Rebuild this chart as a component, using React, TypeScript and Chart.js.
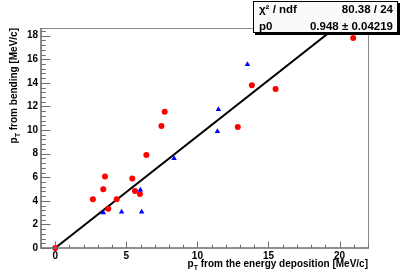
import React, { useEffect, useRef } from "react";
import { Chart, registerables } from "chart.js";

Chart.register(...registerables);

// ---- data ----
const redX = [0, 2.65, 3.38, 3.5, 3.73, 4.32, 5.42, 5.61, 5.96, 6.41, 7.47, 7.7, 12.84, 13.83, 15.5, 20.96];
const redY = [0, 4.13, 4.97, 6.07, 3.33, 4.13, 5.9, 4.83, 4.58, 7.88, 10.34, 11.55, 10.25, 13.79, 13.47, 17.8];
const blueX = [3.38, 4.67, 5.99, 6.08, 8.36, 11.41, 11.48, 13.52];
const blueY = [2.99, 3.05, 4.92, 3.05, 7.6, 9.89, 11.75, 15.57];
const fitP0 = 0.948;
const fitRange = [0, 22];
const xRange = [-1, 22];
const yRange = [0, 18.65];
const xMajorStep = 5;
const xMinorStep = 1;
const yMajorStep = 2;
const yMinorStep = 0.4;
const statsRows = [
  ["\u03C7\u00B2 / ndf", "80.38 / 24"],
  ["p0", "0.948 \u00B1 0.04219"],
];
const xTitle = ["p", "T", " from the energy deposition [MeV/c]"];
const yTitle = ["p", "T", " from bending [MeV/c]"];

const FONT = '"Liberation Sans", Arial, Helvetica, sans-serif';

function drawTitle(ctx: CanvasRenderingContext2D, parts: string[], size: number) {
  const main = `bold ${size}px ${FONT}`;
  const sub = `bold ${Math.round(size * 0.7)}px ${FONT}`;
  ctx.font = main;
  const w0 = ctx.measureText(parts[0]).width;
  const w2 = ctx.measureText(parts[2]).width;
  ctx.font = sub;
  const w1 = ctx.measureText(parts[1]).width;
  const total = w0 + w1 + w2;
  let x = -total;
  ctx.textAlign = "left";
  ctx.textBaseline = "alphabetic";
  ctx.fillStyle = "#000";
  ctx.font = main;
  ctx.fillText(parts[0], x, 0);
  x += w0;
  ctx.font = sub;
  ctx.fillText(parts[1], x, 3);
  x += w1;
  ctx.font = main;
  ctx.fillText(parts[2], x, 0);
}

const rootPlugin = {
  id: "rootStyle",
  afterDatasetsDraw(chart: any) {
    const ctx: CanvasRenderingContext2D = chart.ctx;
    const { left, right, top, bottom } = chart.chartArea;
    const xs = chart.scales.x;
    const ys = chart.scales.y;
    ctx.save();
    // frame
    ctx.strokeStyle = "#8a8a8a";
    ctx.lineWidth = 1;
    ctx.beginPath();
    ctx.moveTo(left, top + 0.5);
    ctx.lineTo(right + 0.5, top + 0.5);
    ctx.lineTo(right + 0.5, bottom);
    ctx.stroke();
    ctx.strokeStyle = "#6e6e6e";
    ctx.lineWidth = 1.6;
    ctx.beginPath();
    ctx.moveTo(left, top);
    ctx.lineTo(left, bottom);
    ctx.lineTo(right + 1, bottom);
    ctx.stroke();
    // ticks
    ctx.strokeStyle = "#6e6e6e";
    ctx.lineWidth = 1;
    const xMaj = 6.5, xMin = 3.3, yMaj = 9.5, yMin = 4.8;
    ctx.beginPath();
    for (let v = Math.ceil(xRange[0] / xMinorStep) * xMinorStep; v <= xRange[1] + 1e-9; v += xMinorStep) {
      const px = Math.round(xs.getPixelForValue(v)) + 0.5;
      const isMaj = Math.abs(v / xMajorStep - Math.round(v / xMajorStep)) < 1e-6;
      ctx.moveTo(px, bottom);
      ctx.lineTo(px, bottom - (isMaj ? xMaj : xMin));
    }
    for (let i = 0; i * yMinorStep <= yRange[1] + 1e-9; i++) {
      const v = i * yMinorStep;
      const py = Math.round(ys.getPixelForValue(v)) + 0.5;
      const isMaj = Math.abs(v / yMajorStep - Math.round(v / yMajorStep)) < 1e-6;
      ctx.moveTo(left, py);
      ctx.lineTo(left + (isMaj ? yMaj : yMin), py);
    }
    ctx.stroke();
    ctx.restore();
  },
  afterDraw(chart: any) {
    const ctx: CanvasRenderingContext2D = chart.ctx;
    const { left, right, top, bottom } = chart.chartArea;
    ctx.save();
    // x title
    ctx.save();
    ctx.translate(right, bottom + 19);
    drawTitle(ctx, xTitle, 10);
    ctx.restore();
    // y title
    ctx.save();
    ctx.translate(17, top);
    ctx.rotate(-Math.PI / 2);
    drawTitle(ctx, yTitle, 10);
    ctx.restore();
    // stats box
    const bx = 253, by = 1, bw = 145, bh = 32;
    ctx.fillStyle = "#000";
    ctx.fillRect(bx + 2, by + 2, bw, bh);
    ctx.fillStyle = "#fafafa";
    ctx.fillRect(bx, by, bw, bh);
    ctx.strokeStyle = "#000";
    ctx.lineWidth = 1;
    ctx.strokeRect(bx + 0.5, by + 0.5, bw - 1, bh - 1);
    ctx.fillStyle = "#000";
    ctx.font = `bold 11.5px ${FONT}`;
    ctx.textBaseline = "alphabetic";
    const baselines = [13, 30];
    statsRows.forEach((row, i) => {
      ctx.textAlign = "left";
      ctx.fillText(row[0], bx + 6, baselines[i]);
      ctx.textAlign = "right";
      ctx.fillText(row[1], bx + bw - 5, baselines[i]);
    });
    ctx.restore();
  },
};

export default function App() {
  const ref = useRef<HTMLCanvasElement | null>(null);
  useEffect(() => {
    if (!ref.current) return;
    const red = redX.map((x, i) => ({ x, y: redY[i] }));
    const blue = blueX.map((x, i) => ({ x, y: blueY[i] }));
    const fit = fitRange.map((x) => ({ x, y: fitP0 * x }));
    const tickFont = { family: FONT, size: 10, weight: "bold" as const };
    const chart = new Chart(ref.current, {
      type: "scatter",
      data: {
        datasets: [
          {
            label: "fit",
            data: fit,
            showLine: true,
            borderColor: "#000",
            borderWidth: 2,
            pointRadius: 0,
            order: 3,
          },
          {
            label: "red",
            data: red,
            backgroundColor: "#ff0000",
            borderColor: "#ff0000",
            pointStyle: "circle",
            pointRadius: 3,
            borderWidth: 0,
            clip: false as any,
            order: 2,
          },
          {
            label: "blue",
            data: blue,
            backgroundColor: "#0000ff",
            borderColor: "#0000ff",
            pointStyle: "triangle",
            pointRadius: 3.2,
            borderWidth: 0,
            clip: false as any,
            order: 1,
          },
        ],
      },
      options: {
        responsive: false,
        animation: false,
        layout: { padding: { top: 28, right: 41, left: 0, bottom: 0 } },
        plugins: { legend: { display: false }, tooltip: { enabled: false } },
        scales: {
          x: {
            type: "linear",
            min: xRange[0],
            max: xRange[1],
            grid: { display: false, drawTicks: false },
            border: { display: false },
            ticks: {
              stepSize: xMajorStep,
              includeBounds: false,
              font: tickFont,
              color: "#000",
              padding: 2,
              maxRotation: 0,
            },
            afterFit: (s: any) => {
              s.height = 28;
            },
          },
          y: {
            type: "linear",
            min: yRange[0],
            max: yRange[1],
            grid: { display: false, drawTicks: false },
            border: { display: false },
            ticks: {
              stepSize: yMajorStep,
              includeBounds: false,
              font: tickFont,
              color: "#000",
              padding: 3,
            },
            afterFit: (s: any) => {
              s.width = 41;
            },
          },
        },
      },
      plugins: [rootPlugin],
    });
    return () => chart.destroy();
  }, []);
  return (
    <div style={{ position: "fixed", left: 0, top: 0, width: 409, height: 276, background: "#fff" }}>
      <canvas ref={ref} width={409} height={276} style={{ display: "block" }} />
    </div>
  );
}
